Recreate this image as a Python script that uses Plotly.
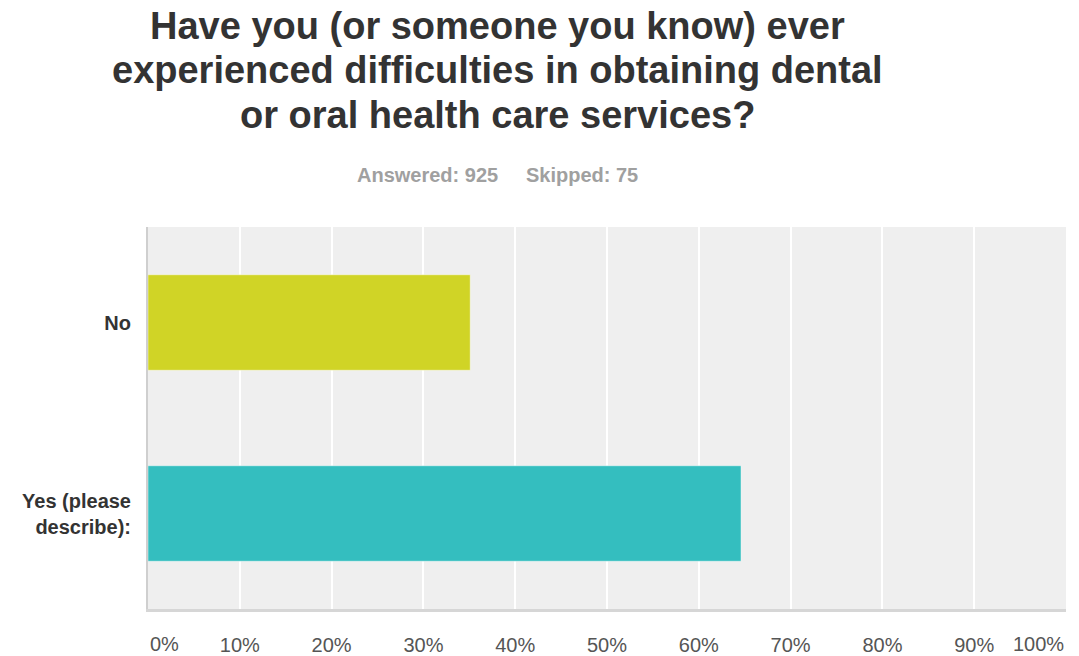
import plotly.graph_objects as go

# Survey responses (percent of respondents)
categories = ["Yes (please<br>describe):", "No"]
percentages = [64.6, 35.1]
bar_colors = ["#34BEBF", "#D0D426"]

tick_values = [0, 10, 20, 30, 40, 50, 60, 70, 80, 90, 100]
tick_labels = ["0%", "10%", "20%", "30%", "40%", "50%", "60%", "70%", "80%", "90%", "100%"]

title_lines = [
    "Have you (or someone you know) ever",
    "experienced difficulties in obtaining dental",
    "or oral health care services?",
]
answered = 925
skipped = 75

FONT = "Liberation Sans, Arial, Helvetica, sans-serif"

fig = go.Figure(
    go.Bar(
        x=percentages,
        y=categories,
        orientation="h",
        marker=dict(color=bar_colors, line=dict(color="rgba(255,255,255,0.45)", width=1)),
        hoverinfo="x+y",
    )
)

# Inner tick labels are handled by the axis; the two end labels are pinned to the plot edges
inner_vals = tick_values[1:-1]
inner_text = tick_labels[1:-1]

annotations = []
title_y = [1.526, 1.4107, 1.2937]
for line, yy in zip(title_lines, title_y):
    annotations.append(dict(
        text=f"<b>{line}</b>", xref="paper", yref="paper", x=0.3807, y=yy,
        xanchor="center", yanchor="middle", showarrow=False,
        font=dict(family=FONT, size=38, color="#333333"),
    ))
annotations.append(dict(
    text=f"<b>Answered: {answered}&nbsp;&nbsp;&nbsp;&nbsp;&nbsp;Skipped: {skipped}</b>",
    xref="paper", yref="paper", x=0.3807, y=1.1366,
    xanchor="center", yanchor="middle", showarrow=False,
    font=dict(family=FONT, size=20, color="#a0a0a0"),
))
for val, lab, anchor in [(tick_values[0], tick_labels[0], "left"), (tick_values[-1], tick_labels[-1], "right")]:
    annotations.append(dict(
        text=lab, xref="x", yref="paper", x=val, y=-0.0916,
        xanchor=anchor, yanchor="middle", showarrow=False,
        font=dict(family=FONT, size=20, color="#555555"),
    ))

fig.update_layout(
    width=1079,
    height=656,
    margin=dict(l=148, r=13, t=227, b=47, autoexpand=False),
    paper_bgcolor="white",
    plot_bgcolor="#efefef",
    bargap=0.5,
    showlegend=False,
    font=dict(family=FONT),
    annotations=annotations,
)

fig.update_xaxes(
    range=[0, 100],
    tickvals=inner_vals,
    ticktext=inner_text,
    showgrid=True,
    gridcolor="white",
    gridwidth=2,
    zeroline=False,
    showline=True,
    linecolor="#d6d6d6",
    linewidth=3,
    ticks="outside",
    ticklen=16,
    tickcolor="rgba(0,0,0,0)",
    tickfont=dict(family=FONT, size=20, color="#555555"),
    automargin=False,
    fixedrange=True,
)

fig.update_yaxes(
    showgrid=False,
    zeroline=False,
    showline=True,
    linecolor="#cfcfcf",
    linewidth=2,
    ticks="outside",
    ticklen=11,
    tickcolor="rgba(0,0,0,0)",
    tickfont=dict(family=FONT, size=20, color="#333333"),
    tickprefix="<b>",
    ticksuffix="</b>",
    automargin=False,
    fixedrange=True,
)

fig.write_html("out.html")
